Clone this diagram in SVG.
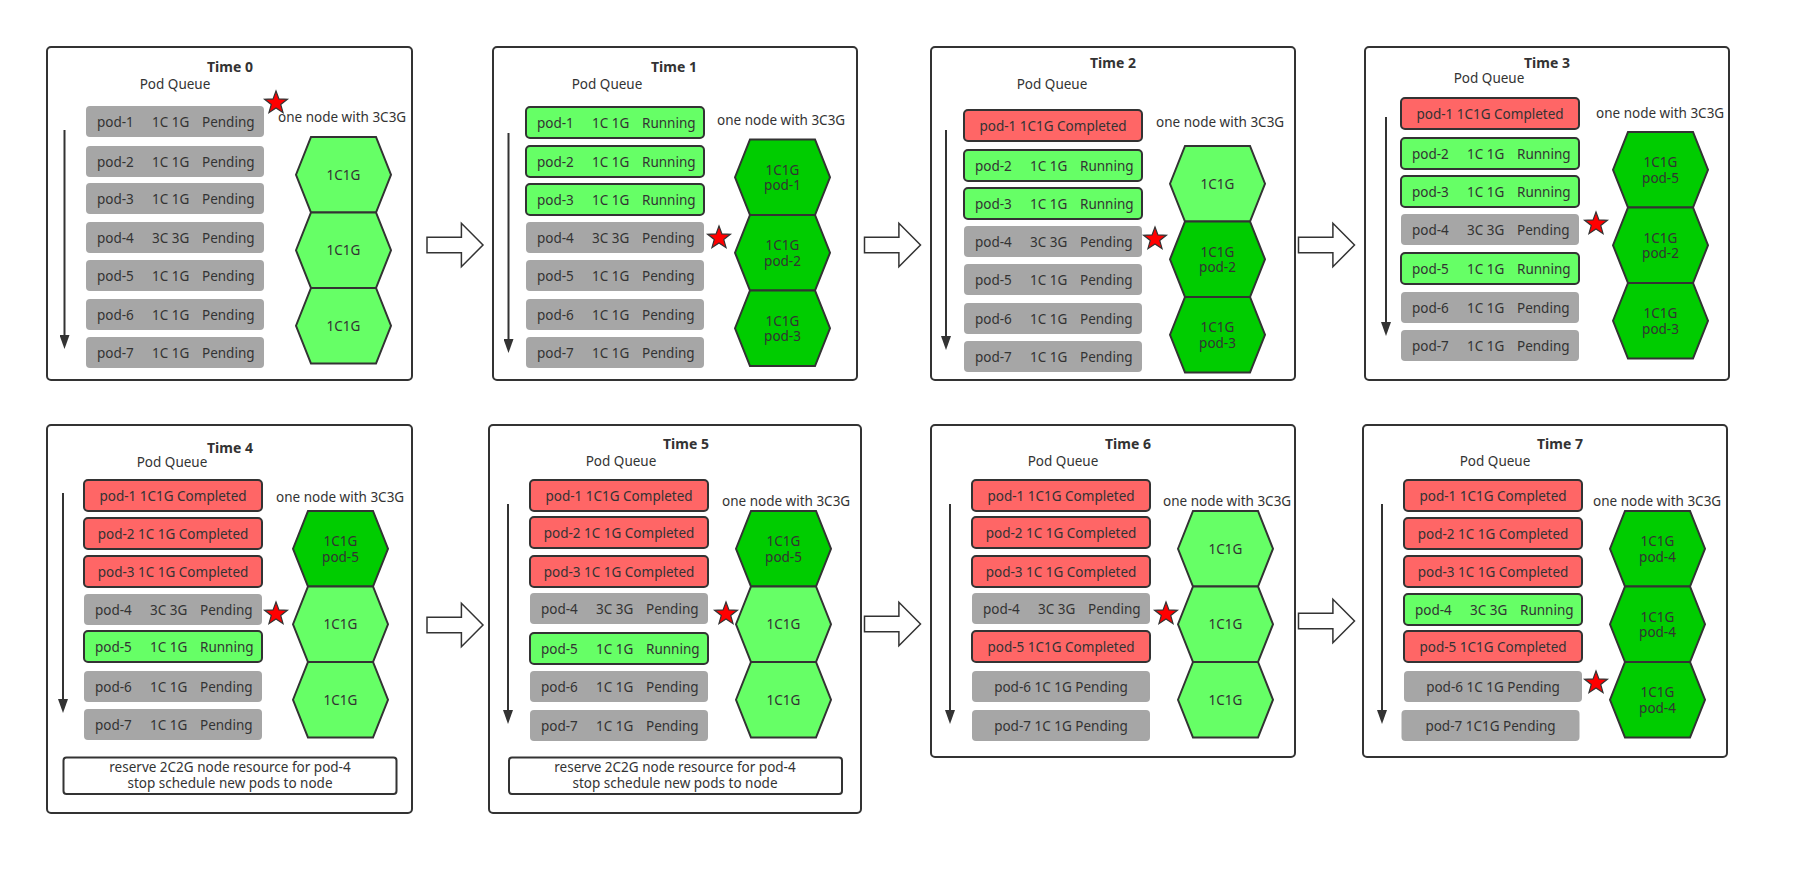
<svg xmlns="http://www.w3.org/2000/svg" xmlns:xlink="http://www.w3.org/1999/xlink" width="1802" height="874" viewBox="0 0 1802 874">
<defs>
<style>
text{font-family:"Noto Sans","DejaVu Sans",sans-serif;font-size:13.5px;fill:#333}
.t{font-weight:bold;font-size:14px;text-anchor:middle}
.c{text-anchor:middle}
.frame{fill:#fff;stroke:#333;stroke-width:2}
.g{fill:#A6A6A6}
.gr{fill:#66FF66;stroke:#333;stroke-width:2}
.r{fill:#FF6666;stroke:#333;stroke-width:2}
.hl{fill:#66FF66;stroke:#333;stroke-width:2}
.hd{fill:#00CC00;stroke:#333;stroke-width:2}
.q{stroke:#333;stroke-width:2;fill:none;marker-end:url(#ah)}
.ba{fill:#fff;stroke:#333;stroke-width:1.5}
.note{fill:#fff;stroke:#333;stroke-width:2}
.star{fill:#FF0000;stroke:#333;stroke-width:1.2}
</style>
<marker id="ah" markerUnits="userSpaceOnUse" viewBox="0 0 14 10" refX="10" refY="5" markerWidth="14" markerHeight="10" orient="auto">
<path d="M0,0 L14,5 L0,10 z" fill="#333"/>
</marker>
<polygon id="hex" points="0,37.75 15,0 80,0 95,37.75 80,75.5 15,75.5"/>
<polygon id="star" points="0,-12 2.94,-4.05 11.41,-3.71 4.76,1.55 7.05,9.71 0,5 -7.05,9.71 -4.76,1.55 -11.41,-3.71 -2.94,-4.05"/>
<polygon id="barrow" points="0,-7.7 34.4,-7.7 34.4,-21.7 56,0 34.4,21.7 34.4,7.7 0,7.7"/>
</defs>
<rect width="1802" height="874" fill="#fff"/>

<g id="time0">
<rect class="frame" x="47" y="47" width="365" height="333" rx="4"/>
<text class="t" x="230" y="72">Time 0</text>
<text class="c" x="175" y="89">Pod Queue</text>
<text x="278" y="122">one node with 3C3G</text>
<line class="q" x1="64.5" y1="130" x2="64.5" y2="345"/>
<rect class="g" x="86" y="106" width="178" height="31" rx="4"/><text y="126.5"><tspan x="97">pod-1</tspan><tspan x="152">1C 1G</tspan><tspan x="202">Pending</tspan></text>
<rect class="g" x="86" y="146" width="178" height="31" rx="4"/><text y="166.5"><tspan x="97">pod-2</tspan><tspan x="152">1C 1G</tspan><tspan x="202">Pending</tspan></text>
<rect class="g" x="86" y="183" width="178" height="31" rx="4"/><text y="203.5"><tspan x="97">pod-3</tspan><tspan x="152">1C 1G</tspan><tspan x="202">Pending</tspan></text>
<rect class="g" x="86" y="222" width="178" height="31" rx="4"/><text y="242.5"><tspan x="97">pod-4</tspan><tspan x="152">3C 3G</tspan><tspan x="202">Pending</tspan></text>
<rect class="g" x="86" y="260" width="178" height="31" rx="4"/><text y="280.5"><tspan x="97">pod-5</tspan><tspan x="152">1C 1G</tspan><tspan x="202">Pending</tspan></text>
<rect class="g" x="86" y="299" width="178" height="31" rx="4"/><text y="319.5"><tspan x="97">pod-6</tspan><tspan x="152">1C 1G</tspan><tspan x="202">Pending</tspan></text>
<rect class="g" x="86" y="337" width="178" height="31" rx="4"/><text y="357.5"><tspan x="97">pod-7</tspan><tspan x="152">1C 1G</tspan><tspan x="202">Pending</tspan></text>
<use href="#hex" class="hl" x="296" y="137"/><text class="c" x="343.5" y="179.75">1C1G</text>
<use href="#hex" class="hl" x="296" y="212.5"/><text class="c" x="343.5" y="255.25">1C1G</text>
<use href="#hex" class="hl" x="296" y="288"/><text class="c" x="343.5" y="330.75">1C1G</text>
<use href="#star" class="star" x="276" y="103"/>
</g>

<g id="time1">
<rect class="frame" x="493" y="47" width="364" height="333" rx="4"/>
<text class="t" x="674" y="72">Time 1</text>
<text class="c" x="607" y="89">Pod Queue</text>
<text x="717" y="125">one node with 3C3G</text>
<line class="q" x1="508.5" y1="133" x2="508.5" y2="349"/>
<rect class="gr" x="526" y="107" width="178" height="31" rx="4"/><text y="127.5"><tspan x="537">pod-1</tspan><tspan x="592">1C 1G</tspan><tspan x="642">Running</tspan></text>
<rect class="gr" x="526" y="146" width="178" height="31" rx="4"/><text y="166.5"><tspan x="537">pod-2</tspan><tspan x="592">1C 1G</tspan><tspan x="642">Running</tspan></text>
<rect class="gr" x="526" y="184" width="178" height="31" rx="4"/><text y="204.5"><tspan x="537">pod-3</tspan><tspan x="592">1C 1G</tspan><tspan x="642">Running</tspan></text>
<rect class="g" x="526" y="222" width="178" height="31" rx="4"/><text y="242.5"><tspan x="537">pod-4</tspan><tspan x="592">3C 3G</tspan><tspan x="642">Pending</tspan></text>
<rect class="g" x="526" y="260" width="178" height="31" rx="4"/><text y="280.5"><tspan x="537">pod-5</tspan><tspan x="592">1C 1G</tspan><tspan x="642">Pending</tspan></text>
<rect class="g" x="526" y="299" width="178" height="31" rx="4"/><text y="319.5"><tspan x="537">pod-6</tspan><tspan x="592">1C 1G</tspan><tspan x="642">Pending</tspan></text>
<rect class="g" x="526" y="337" width="178" height="31" rx="4"/><text y="357.5"><tspan x="537">pod-7</tspan><tspan x="592">1C 1G</tspan><tspan x="642">Pending</tspan></text>
<use href="#hex" class="hd" x="735" y="139.5"/><text class="c" x="782.5" y="174.75">1C1G</text><text class="c" x="782.5" y="190.25">pod-1</text>
<use href="#hex" class="hd" x="735" y="215"/><text class="c" x="782.5" y="250.25">1C1G</text><text class="c" x="782.5" y="265.75">pod-2</text>
<use href="#hex" class="hd" x="735" y="290.5"/><text class="c" x="782.5" y="325.75">1C1G</text><text class="c" x="782.5" y="341.25">pod-3</text>
<use href="#star" class="star" x="719" y="238"/>
</g>

<g id="time2">
<rect class="frame" x="931" y="47" width="364" height="333" rx="4"/>
<text class="t" x="1113" y="68">Time 2</text>
<text class="c" x="1052" y="89">Pod Queue</text>
<text x="1156" y="127">one node with 3C3G</text>
<line class="q" x1="946" y1="130" x2="946" y2="346"/>
<rect class="r" x="964" y="110" width="178" height="31" rx="4"/><text class="c" x="1053" y="130.5">pod-1 1C1G Completed</text>
<rect class="gr" x="964" y="150" width="178" height="31" rx="4"/><text y="170.5"><tspan x="975">pod-2</tspan><tspan x="1030">1C 1G</tspan><tspan x="1080">Running</tspan></text>
<rect class="gr" x="964" y="188" width="178" height="31" rx="4"/><text y="208.5"><tspan x="975">pod-3</tspan><tspan x="1030">1C 1G</tspan><tspan x="1080">Running</tspan></text>
<rect class="g" x="964" y="226" width="178" height="31" rx="4"/><text y="246.5"><tspan x="975">pod-4</tspan><tspan x="1030">3C 3G</tspan><tspan x="1080">Pending</tspan></text>
<rect class="g" x="964" y="264" width="178" height="31" rx="4"/><text y="284.5"><tspan x="975">pod-5</tspan><tspan x="1030">1C 1G</tspan><tspan x="1080">Pending</tspan></text>
<rect class="g" x="964" y="303" width="178" height="31" rx="4"/><text y="323.5"><tspan x="975">pod-6</tspan><tspan x="1030">1C 1G</tspan><tspan x="1080">Pending</tspan></text>
<rect class="g" x="964" y="341" width="178" height="31" rx="4"/><text y="361.5"><tspan x="975">pod-7</tspan><tspan x="1030">1C 1G</tspan><tspan x="1080">Pending</tspan></text>
<use href="#hex" class="hl" x="1170" y="146"/><text class="c" x="1217.5" y="188.75">1C1G</text>
<use href="#hex" class="hd" x="1170" y="221.5"/><text class="c" x="1217.5" y="256.75">1C1G</text><text class="c" x="1217.5" y="272.25">pod-2</text>
<use href="#hex" class="hd" x="1170" y="297"/><text class="c" x="1217.5" y="332.25">1C1G</text><text class="c" x="1217.5" y="347.75">pod-3</text>
<use href="#star" class="star" x="1155" y="239"/>
</g>

<g id="time3">
<rect class="frame" x="1365" y="47" width="364" height="333" rx="4"/>
<text class="t" x="1547" y="68">Time 3</text>
<text class="c" x="1489" y="83">Pod Queue</text>
<text x="1596" y="118">one node with 3C3G</text>
<line class="q" x1="1386" y1="117" x2="1386" y2="332"/>
<rect class="r" x="1401" y="98" width="178" height="31" rx="4"/><text class="c" x="1490" y="118.5">pod-1 1C1G Completed</text>
<rect class="gr" x="1401" y="138" width="178" height="31" rx="4"/><text y="158.5"><tspan x="1412">pod-2</tspan><tspan x="1467">1C 1G</tspan><tspan x="1517">Running</tspan></text>
<rect class="gr" x="1401" y="176" width="178" height="31" rx="4"/><text y="196.5"><tspan x="1412">pod-3</tspan><tspan x="1467">1C 1G</tspan><tspan x="1517">Running</tspan></text>
<rect class="g" x="1401" y="214" width="178" height="31" rx="4"/><text y="234.5"><tspan x="1412">pod-4</tspan><tspan x="1467">3C 3G</tspan><tspan x="1517">Pending</tspan></text>
<rect class="gr" x="1401" y="253" width="178" height="31" rx="4"/><text y="273.5"><tspan x="1412">pod-5</tspan><tspan x="1467">1C 1G</tspan><tspan x="1517">Running</tspan></text>
<rect class="g" x="1401" y="292" width="178" height="31" rx="4"/><text y="312.5"><tspan x="1412">pod-6</tspan><tspan x="1467">1C 1G</tspan><tspan x="1517">Pending</tspan></text>
<rect class="g" x="1401" y="330" width="178" height="31" rx="4"/><text y="350.5"><tspan x="1412">pod-7</tspan><tspan x="1467">1C 1G</tspan><tspan x="1517">Pending</tspan></text>
<use href="#hex" class="hd" x="1613" y="132"/><text class="c" x="1660.5" y="167.25">1C1G</text><text class="c" x="1660.5" y="182.75">pod-5</text>
<use href="#hex" class="hd" x="1613" y="207.5"/><text class="c" x="1660.5" y="242.75">1C1G</text><text class="c" x="1660.5" y="258.25">pod-2</text>
<use href="#hex" class="hd" x="1613" y="283"/><text class="c" x="1660.5" y="318.25">1C1G</text><text class="c" x="1660.5" y="333.75">pod-3</text>
<use href="#star" class="star" x="1596" y="224"/>
</g>

<g id="time4">
<rect class="frame" x="47" y="425" width="365" height="388" rx="4"/>
<text class="t" x="230" y="453">Time 4</text>
<text class="c" x="172" y="467">Pod Queue</text>
<text x="276" y="502">one node with 3C3G</text>
<line class="q" x1="63" y1="493" x2="63" y2="709"/>
<rect class="r" x="84" y="480" width="178" height="31" rx="4"/><text class="c" x="173" y="500.5">pod-1 1C1G Completed</text>
<rect class="r" x="84" y="518" width="178" height="31" rx="4"/><text class="c" x="173" y="538.5">pod-2 1C 1G Completed</text>
<rect class="r" x="84" y="556" width="178" height="31" rx="4"/><text class="c" x="173" y="576.5">pod-3 1C 1G Completed</text>
<rect class="g" x="84" y="594" width="178" height="31" rx="4"/><text y="614.5"><tspan x="95">pod-4</tspan><tspan x="150">3C 3G</tspan><tspan x="200">Pending</tspan></text>
<rect class="gr" x="84" y="631" width="178" height="31" rx="4"/><text y="651.5"><tspan x="95">pod-5</tspan><tspan x="150">1C 1G</tspan><tspan x="200">Running</tspan></text>
<rect class="g" x="84" y="671" width="178" height="31" rx="4"/><text y="691.5"><tspan x="95">pod-6</tspan><tspan x="150">1C 1G</tspan><tspan x="200">Pending</tspan></text>
<rect class="g" x="84" y="709" width="178" height="31" rx="4"/><text y="729.5"><tspan x="95">pod-7</tspan><tspan x="150">1C 1G</tspan><tspan x="200">Pending</tspan></text>
<use href="#hex" class="hd" x="293" y="511"/><text class="c" x="340.5" y="546.25">1C1G</text><text class="c" x="340.5" y="561.75">pod-5</text>
<use href="#hex" class="hl" x="293" y="586.5"/><text class="c" x="340.5" y="629.25">1C1G</text>
<use href="#hex" class="hl" x="293" y="662"/><text class="c" x="340.5" y="704.75">1C1G</text>
<use href="#star" class="star" x="276" y="614"/>
<rect class="note" x="63.5" y="757.5" width="333" height="36.5" rx="3"/>
<text class="c" x="230" y="772">reserve 2C2G node resource for pod-4</text>
<text class="c" x="230" y="788">stop schedule new pods to node</text>
</g>

<g id="time5">
<rect class="frame" x="489" y="425" width="372" height="388" rx="4"/>
<text class="t" x="686" y="449">Time 5</text>
<text class="c" x="621" y="466">Pod Queue</text>
<text x="722" y="506">one node with 3C3G</text>
<line class="q" x1="508" y1="504" x2="508" y2="720"/>
<rect class="r" x="530" y="480" width="178" height="31" rx="4"/><text class="c" x="619" y="500.5">pod-1 1C1G Completed</text>
<rect class="r" x="530" y="517" width="178" height="31" rx="4"/><text class="c" x="619" y="537.5">pod-2 1C 1G Completed</text>
<rect class="r" x="530" y="556" width="178" height="31" rx="4"/><text class="c" x="619" y="576.5">pod-3 1C 1G Completed</text>
<rect class="g" x="530" y="593" width="178" height="31" rx="4"/><text y="613.5"><tspan x="541">pod-4</tspan><tspan x="596">3C 3G</tspan><tspan x="646">Pending</tspan></text>
<rect class="gr" x="530" y="633" width="178" height="31" rx="4"/><text y="653.5"><tspan x="541">pod-5</tspan><tspan x="596">1C 1G</tspan><tspan x="646">Running</tspan></text>
<rect class="g" x="530" y="671" width="178" height="31" rx="4"/><text y="691.5"><tspan x="541">pod-6</tspan><tspan x="596">1C 1G</tspan><tspan x="646">Pending</tspan></text>
<rect class="g" x="530" y="710" width="178" height="31" rx="4"/><text y="730.5"><tspan x="541">pod-7</tspan><tspan x="596">1C 1G</tspan><tspan x="646">Pending</tspan></text>
<use href="#hex" class="hd" x="736" y="511"/><text class="c" x="783.5" y="546.25">1C1G</text><text class="c" x="783.5" y="561.75">pod-5</text>
<use href="#hex" class="hl" x="736" y="586.5"/><text class="c" x="783.5" y="629.25">1C1G</text>
<use href="#hex" class="hl" x="736" y="662"/><text class="c" x="783.5" y="704.75">1C1G</text>
<use href="#star" class="star" x="726" y="614"/>
<rect class="note" x="509" y="757.5" width="333" height="36.5" rx="3"/>
<text class="c" x="675" y="772">reserve 2C2G node resource for pod-4</text>
<text class="c" x="675" y="788">stop schedule new pods to node</text>
</g>

<g id="time6">
<rect class="frame" x="931" y="425" width="364" height="332" rx="4"/>
<text class="t" x="1128" y="449">Time 6</text>
<text class="c" x="1063" y="466">Pod Queue</text>
<text x="1163" y="506">one node with 3C3G</text>
<line class="q" x1="950" y1="504" x2="950" y2="720"/>
<rect class="r" x="972" y="480" width="178" height="31" rx="4"/><text class="c" x="1061" y="500.5">pod-1 1C1G Completed</text>
<rect class="r" x="972" y="517" width="178" height="31" rx="4"/><text class="c" x="1061" y="537.5">pod-2 1C 1G Completed</text>
<rect class="r" x="972" y="556" width="178" height="31" rx="4"/><text class="c" x="1061" y="576.5">pod-3 1C 1G Completed</text>
<rect class="g" x="972" y="593" width="178" height="31" rx="4"/><text y="613.5"><tspan x="983">pod-4</tspan><tspan x="1038">3C 3G</tspan><tspan x="1088">Pending</tspan></text>
<rect class="r" x="972" y="631" width="178" height="31" rx="4"/><text class="c" x="1061" y="651.5">pod-5 1C1G Completed</text>
<rect class="g" x="972" y="671" width="178" height="31" rx="4"/><text class="c" x="1061" y="691.5">pod-6 1C 1G Pending</text>
<rect class="g" x="972" y="710" width="178" height="31" rx="4"/><text class="c" x="1061" y="730.5">pod-7 1C 1G Pending</text>
<use href="#hex" class="hl" x="1178" y="511"/><text class="c" x="1225.5" y="553.75">1C1G</text>
<use href="#hex" class="hl" x="1178" y="586.5"/><text class="c" x="1225.5" y="629.25">1C1G</text>
<use href="#hex" class="hl" x="1178" y="662"/><text class="c" x="1225.5" y="704.75">1C1G</text>
<use href="#star" class="star" x="1166" y="614"/>
</g>

<g id="time7">
<rect class="frame" x="1363" y="425" width="364" height="332" rx="4"/>
<text class="t" x="1560" y="449">Time 7</text>
<text class="c" x="1495" y="466">Pod Queue</text>
<text x="1593" y="506">one node with 3C3G</text>
<line class="q" x1="1382" y1="504" x2="1382" y2="720"/>
<rect class="r" x="1404" y="480" width="178" height="31" rx="4"/><text class="c" x="1493" y="500.5">pod-1 1C1G Completed</text>
<rect class="r" x="1404" y="518" width="178" height="31" rx="4"/><text class="c" x="1493" y="538.5">pod-2 1C 1G Completed</text>
<rect class="r" x="1404" y="556" width="178" height="31" rx="4"/><text class="c" x="1493" y="576.5">pod-3 1C 1G Completed</text>
<rect class="gr" x="1404" y="594" width="178" height="31" rx="4"/><text y="614.5"><tspan x="1415">pod-4</tspan><tspan x="1470">3C 3G</tspan><tspan x="1520">Running</tspan></text>
<rect class="r" x="1404" y="631" width="178" height="31" rx="4"/><text class="c" x="1493" y="651.5">pod-5 1C1G Completed</text>
<rect class="g" x="1404" y="671" width="178" height="31" rx="4"/><text class="c" x="1493" y="691.5">pod-6 1C 1G Pending</text>
<rect class="g" x="1401.5" y="710" width="178" height="31" rx="4"/><text class="c" x="1490.5" y="730.5">pod-7 1C1G Pending</text>
<use href="#hex" class="hd" x="1610" y="511"/><text class="c" x="1657.5" y="546.25">1C1G</text><text class="c" x="1657.5" y="561.75">pod-4</text>
<use href="#hex" class="hd" x="1610" y="586.5"/><text class="c" x="1657.5" y="621.75">1C1G</text><text class="c" x="1657.5" y="637.25">pod-4</text>
<use href="#hex" class="hd" x="1610" y="662"/><text class="c" x="1657.5" y="697.25">1C1G</text><text class="c" x="1657.5" y="712.75">pod-4</text>
<use href="#star" class="star" x="1596" y="683"/>
</g>

<g id="connectors">
<use href="#barrow" class="ba" x="427" y="245"/>
<use href="#barrow" class="ba" x="864.5" y="245"/>
<use href="#barrow" class="ba" x="1298.5" y="245"/>
<use href="#barrow" class="ba" x="427" y="625"/>
<use href="#barrow" class="ba" x="864.5" y="624"/>
<use href="#barrow" class="ba" x="1298.5" y="621"/>
</g>
</svg>
